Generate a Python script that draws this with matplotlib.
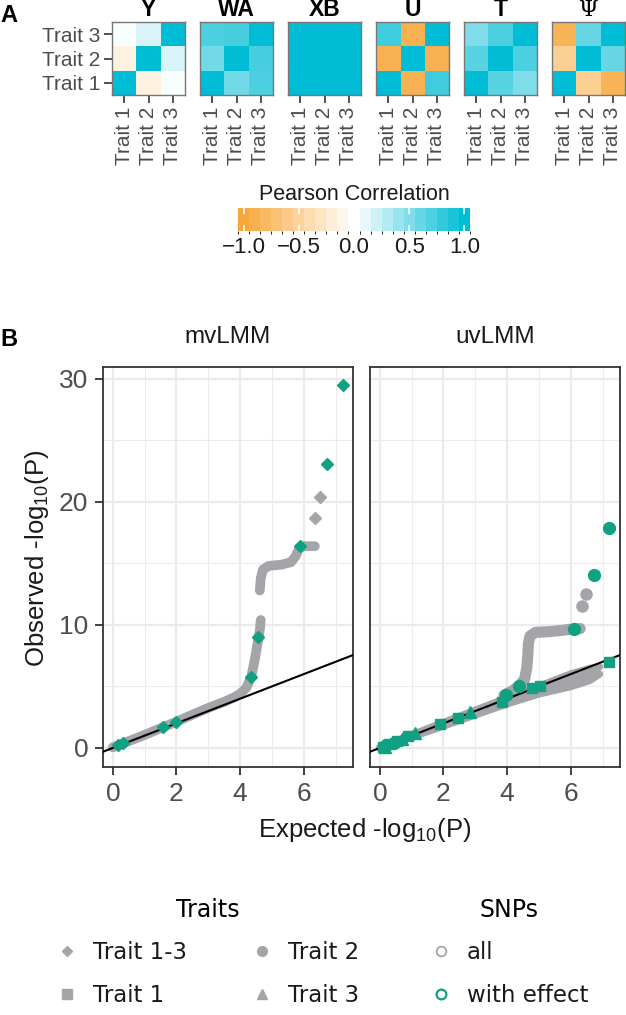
import numpy as np
import matplotlib
matplotlib.use("Agg")
import matplotlib.pyplot as plt
from matplotlib.colors import LinearSegmentedColormap, BoundaryNorm
from matplotlib.cm import ScalarMappable
from matplotlib.lines import Line2D

# ---- panel A: correlation matrices (rows/cols = Trait 1..3) ----
traits = ["Trait 1", "Trait 2", "Trait 3"]
heat_titles = ["Y", "WA", "XB", "U", "T", "Ψ"]
corr_Y = [[1.0, -0.15, 0.03], [-0.15, 1.0, 0.15], [0.03, 0.15, 1.0]]
corr_WA = [[1.0, 0.55, 0.70], [0.55, 1.0, 0.72], [0.70, 0.72, 1.0]]
corr_XB = [[1.0, 0.99, 0.99], [0.99, 1.0, 0.99], [0.99, 0.99, 1.0]]
corr_U = [[1.0, -0.88, 0.75], [-0.88, 1.0, -0.88], [0.75, -0.88, 1.0]]
corr_T = [[1.0, 0.65, 0.50], [0.65, 1.0, 0.70], [0.50, 0.70, 1.0]]
corr_Psi = [[1.0, -0.55, -0.85], [-0.55, 1.0, 0.60], [-0.85, 0.60, 1.0]]
cbar_ticks = [-1.0, -0.5, 0.0, 0.5, 1.0]

# ---- panel B: QQ plots (expected vs observed -log10 P) ----
# mvLMM, all SNPs (gray band, NaN = gap)
mv_band_x = [0.0, 0.5, 1.0, 1.5, 2.0, 2.5, 3.0, 3.5, 3.8, 4.0, 4.2, 4.35, 4.45, 4.55, 4.62, 4.65,
             np.nan, 4.62, 4.65, 4.72, 4.9, 5.3, 5.6, 5.75, 5.85, 6.0, 6.35]
mv_band_y = [0.05, 0.55, 1.06, 1.6, 2.14, 2.7, 3.25, 3.75, 4.1, 4.4, 4.9, 5.8, 7.0, 8.5, 9.6, 10.4,
             np.nan, 12.8, 13.8, 14.5, 14.8, 14.9, 15.1, 15.6, 16.2, 16.4, 16.4]
mv_gray_x = [6.35, 6.51]
mv_gray_y = [18.7, 20.4]
mv_eff_x = [0.17, 0.33, 1.58, 2.0, 4.35, 4.55, 5.88, 6.72, 7.22]
mv_eff_y = [0.24, 0.43, 1.73, 2.09, 5.8, 9.05, 16.4, 23.1, 29.5]

# uvLMM, all SNPs: null band (lower/upper edge) and the rising branch
uv_null_x = [0.0, 1.0, 2.0, 3.0, 4.0, 5.0, 6.0, 6.6, 6.9]
uv_null_lo = [0.0, 0.9, 1.8, 2.7, 3.6, 4.4, 5.0, 5.5, 6.0]
uv_null_hi = [0.05, 1.05, 2.05, 3.05, 4.05, 5.0, 6.0, 6.45, 6.6]
uv_rise_x = [3.9, 4.2, 4.4, 4.55, 4.62, 4.65, 4.67, 4.72, 4.9, 5.3, 5.7, 6.0, 6.3]
uv_rise_y = [4.3, 4.7, 5.1, 5.6, 6.5, 7.5, 8.5, 9.1, 9.4, 9.45, 9.55, 9.65, 9.7]
uv_gray_x = [6.35, 6.49]
uv_gray_y = [11.5, 12.5]
uv_t1_x = [0.1, 0.3, 0.55, 0.9, 1.9, 2.45, 3.85, 4.79, 5.02, 7.2]
uv_t1_y = [0.1, 0.35, 0.55, 1.0, 1.92, 2.47, 3.77, 4.85, 5.0, 7.0]
uv_t2_x = [0.2, 0.45, 3.97, 4.39, 6.09, 6.72, 7.2]
uv_t2_y = [0.2, 0.4, 4.3, 5.0, 9.65, 14.07, 17.9]
uv_t3_x = [0.15, 0.7, 1.1, 2.84]
uv_t3_y = [0.1, 0.7, 1.25, 2.95]

ORANGE = "#F8A73A"
CYAN = "#00BCD4"
GRAY = "#A4A5A8"
GREEN = "#12A082"
TXT = "#4D4D4D"

W, H = 626, 1015
plt.rcParams["font.family"] = ["Liberation Sans", "DejaVu Sans"]
plt.rcParams["mathtext.fontset"] = "custom"
plt.rcParams["mathtext.rm"] = "Liberation Sans"
plt.rcParams["mathtext.it"] = "Liberation Sans"

fig = plt.figure(figsize=(W / 100, H / 100), dpi=100)


def px_axes(x0, y0, x1, y1):
    return fig.add_axes([x0 / W, 1 - y1 / H, (x1 - x0) / W, (y1 - y0) / H])


cmap = LinearSegmentedColormap.from_list("pc", [ORANGE, "white", CYAN])

# ---- panel A ----
mats = [corr_Y, corr_WA, corr_XB, corr_U, corr_T, corr_Psi]
for i, (title, mat) in enumerate(zip(heat_titles, mats)):
    x0 = 112 + 88 * i
    ax = px_axes(x0, 22, x0 + 73, 95)
    ax.imshow(np.array(mat), cmap=cmap, vmin=-1, vmax=1, origin="lower", aspect="auto")
    ax.set_xticks(range(3))
    ax.set_xticklabels(traits, rotation=90, fontsize=15, color=TXT)
    if i == 0:
        ax.set_yticks(range(3))
        ax.set_yticklabels(traits, fontsize=15, color=TXT)
    else:
        ax.set_yticks([])
    ax.tick_params(length=5.5, width=1.2, color="#333333", pad=3)
    for s in ax.spines.values():
        s.set_color("#777777")
        s.set_linewidth(1.0)
    if title == "Ψ":
        ax.set_title(title, fontsize=16, family="DejaVu Serif", pad=4)
    else:
        ax.set_title(title, fontsize=16.5, fontweight="bold", pad=4)

fig.text(9 / W, 1 - 16 / H, "A", fontsize=17, fontweight="bold", ha="center", va="center")

# colour bar
cax = px_axes(238, 208, 470, 231)
bounds = np.linspace(-1.05, 1.05, 22)
sm = ScalarMappable(norm=BoundaryNorm(bounds, 21), cmap=cmap.resampled(21))
cb = fig.colorbar(sm, cax=cax, orientation="horizontal")
cb.set_ticks(cbar_ticks)
cb.set_ticklabels(["\u22121.0", "\u22120.5", "0.0", "0.5", "1.0"])
cb.outline.set_visible(False)
cax.tick_params(direction="in", color="white", length=4, width=1.2, top=True, bottom=True,
                labelsize=16, labelcolor="#1A1A1A", pad=4)
fig.text(354 / W, 1 - 194 / H, "Pearson Correlation", fontsize=15.5, ha="center", va="center",
         color="#1A1A1A")

# ---- panel B ----
ax_mv = px_axes(103, 367, 353, 767)
ax_uv = px_axes(370, 367, 620, 767)

for ax in (ax_mv, ax_uv):
    ax.set_xlim(-0.31, 7.55)
    ax.set_ylim(-1.55, 30.97)
    ax.set_xticks([0, 2, 4, 6])
    ax.set_xticks([1, 3, 5, 7], minor=True)
    ax.set_yticks([0, 10, 20, 30])
    ax.set_yticks([5, 15, 25], minor=True)
    ax.grid(which="major", color="#EBEBEB", lw=1.6)
    ax.grid(which="minor", color="#EBEBEB", lw=0.8)
    ax.set_axisbelow(True)
    ax.tick_params(which="minor", length=0)
    ax.tick_params(which="major", length=6, width=1.3, color="#333333", labelsize=19,
                   labelcolor=TXT, pad=4.5)
    for s in ax.spines.values():
        s.set_color("#333333")
        s.set_linewidth(1.3)

ax_uv.tick_params(left=False, labelleft=False)

# mvLMM
ax_mv.plot(mv_band_x, mv_band_y, color=GRAY, lw=7, solid_capstyle="round",
           solid_joinstyle="round", zorder=2)
ax_mv.plot(mv_gray_x, mv_gray_y, ls="none", marker="D", ms=6.5, color=GRAY, zorder=2)
ax_mv.axline((0, 0), slope=1, color="black", lw=1.5, zorder=3)
ax_mv.plot(mv_eff_x, mv_eff_y, ls="none", marker="D", ms=6.5, color=GREEN, zorder=4)

# uvLMM
ax_uv.fill_between(uv_null_x, uv_null_lo, uv_null_hi, color=GRAY, lw=0, zorder=2)
for yy in (uv_null_lo, uv_null_hi):
    ax_uv.plot(uv_null_x, yy, color=GRAY, lw=5.5, solid_capstyle="round", zorder=2)
ax_uv.plot(uv_rise_x, uv_rise_y, color=GRAY, lw=8, solid_capstyle="round",
           solid_joinstyle="round", zorder=2)
ax_uv.plot(uv_gray_x, uv_gray_y, ls="none", marker="o", ms=8, color=GRAY, zorder=2)
ax_uv.axline((0, 0), slope=1, color="black", lw=1.5, zorder=3)
ax_uv.plot(uv_t1_x, uv_t1_y, ls="none", marker="s", ms=7.5, color=GREEN, zorder=4)
ax_uv.plot(uv_t2_x, uv_t2_y, ls="none", marker="o", ms=8.5, color=GREEN, zorder=4)
ax_uv.plot(uv_t3_x, uv_t3_y, ls="none", marker="^", ms=8.5, color=GREEN, zorder=4)

fig.text(9 / W, 1 - 339 / H, "B", fontsize=17, fontweight="bold", ha="center", va="center")
fig.text(228 / W, 1 - 337 / H, "mvLMM", fontsize=17.5, ha="center", va="center", color="#1A1A1A")
fig.text(495 / W, 1 - 337 / H, "uvLMM", fontsize=17.5, ha="center", va="center", color="#1A1A1A")
fig.text(37 / W, 1 - 558 / H, "Observed -log$_{10}$(P)", fontsize=18.5, rotation=90,
         ha="center", va="center", color="#1A1A1A")
fig.text(365 / W, 1 - 830 / H, "Expected -log$_{10}$(P)", fontsize=18.5, ha="center",
         va="center", color="#1A1A1A")

# legends
trait_handles = [
    Line2D([], [], ls="none", marker="D", ms=5, color=GRAY, label="Trait 1-3"),
    Line2D([], [], ls="none", marker="s", ms=7, color=GRAY, label="Trait 1"),
    Line2D([], [], ls="none", marker="o", ms=7, color=GRAY, label="Trait 2"),
    Line2D([], [], ls="none", marker="^", ms=7, color=GRAY, label="Trait 3"),
]
snp_handles = [
    Line2D([], [], ls="none", marker="o", ms=7, mfc="none", mec=GRAY, mew=1.3, label="all"),
    Line2D([], [], ls="none", marker="o", ms=7, mfc="none", mec=GREEN, mew=1.6,
           label="with effect"),
]
leg_kw = dict(frameon=False, title_fontsize=17, handlelength=1.0,
              handletextpad=0.6, labelspacing=0.85, borderpad=0, borderaxespad=0,
              loc="upper left", prop={"family": "DejaVu Sans", "size": 16.5})
leg1 = fig.legend(handles=trait_handles, ncol=2, title="Traits", columnspacing=2.8,
                  bbox_to_anchor=(56 / W, 1 - 898 / H), **leg_kw)
leg2 = fig.legend(handles=snp_handles, title="SNPs", bbox_to_anchor=(430 / W, 1 - 898 / H),
                  **leg_kw)
for lg in (leg1, leg2):
    lg.get_title().set_family("DejaVu Sans")
    for t in lg.get_texts():
        t.set_color("#1A1A1A")

fig.savefig("out.png", dpi=100)
